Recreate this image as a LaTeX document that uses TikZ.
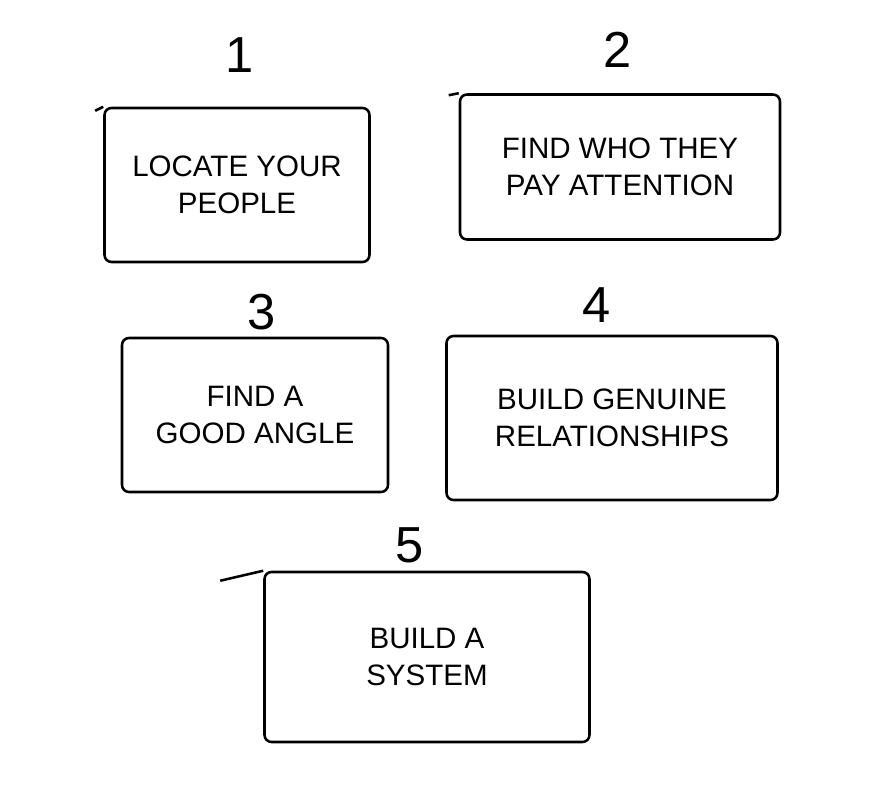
\documentclass[tikz,border=0pt]{standalone}
\usepackage{fontspec}
\setmainfont{Liberation Sans}
\usepackage{tikz}

\begin{document}
\begin{tikzpicture}[x=0.025cm,y=-0.025cm,
  line width=1.8pt,
  stepbox/.style={draw, rounded corners=5pt, align=center,
    font=\fontsize{21}{26}\selectfont},
  stepnum/.style={font=\fontsize{36}{36}\selectfont}]
  \useasboundingbox (0,0) rectangle (880,806);
  % the five steps
  \node[stepbox, minimum width={265*0.025cm}, minimum height={154*0.025cm}] (b1) at (237,185) {LOCATE YOUR\\PEOPLE};
  \node[stepbox, minimum width={320*0.025cm}, minimum height={145*0.025cm}] (b2) at (620,167) {FIND WHO THEY\\PAY ATTENTION};
  \node[stepbox, minimum width={266*0.025cm}, minimum height={154*0.025cm}] (b3) at (255,415) {FIND A\\GOOD ANGLE};
  \node[stepbox, minimum width={331*0.025cm}, minimum height={164*0.025cm}] (b4) at (612,418) {BUILD GENUINE\\RELATIONSHIPS};
  \node[stepbox, minimum width={325*0.025cm}, minimum height={170*0.025cm}] (b5) at (427,657) {BUILD A\\SYSTEM};
  % overhanging top strokes
  \draw (b1.north west) -- ++(-8,4);
  \draw (b2.north west) -- ++(-10,2);
  \draw (b5.north west) -- ++(-43,10);
  % numbers
  \node[stepnum] (n1) at (240,55) {1};
  \node[stepnum] (n2) at (618,50) {2};
  \node[stepnum] (n3) at (262,312) {3};
  \node[stepnum] (n4) at (597,305) {4};
  \node[stepnum] (n5) at (410,545) {5};
\end{tikzpicture}
\end{document}
